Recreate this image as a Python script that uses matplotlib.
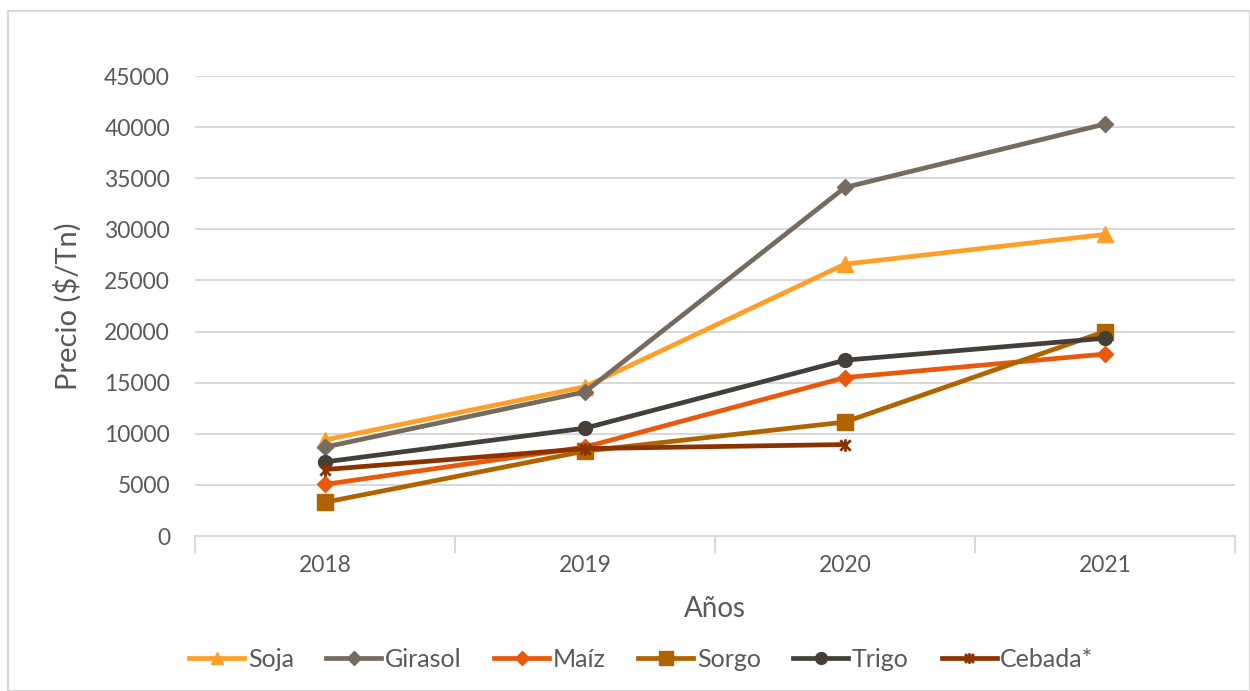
import numpy as np
import matplotlib.pyplot as plt
from matplotlib.patches import Rectangle
from matplotlib.path import Path

years = ['2018', '2019', '2020', '2021']
soja = [9400, 14600, 26600, 29500]
girasol = [8700, 14100, 34100, 40300]
maiz = [5050, 8700, 15500, 17800]
sorgo = [3300, 8300, 11150, 20000]
trigo = [7250, 10550, 17200, 19350]
cebada = [6500, 8550, 8950, np.nan]

# excel-like star: an x with a vertical bar through it
starMarker = Path([(-1, -1), (1, 1), (-1, 1), (1, -1), (0, -1.2), (0, 1.2)],
                  [Path.MOVETO, Path.LINETO, Path.MOVETO, Path.LINETO, Path.MOVETO, Path.LINETO])

series = [
    ('Soja', soja, '#FF9F2A', '^', 11),
    ('Girasol', girasol, '#756B5E', 'D', 8),
    ('Maíz', maiz, '#E8590C', 'D', 8),
    ('Sorgo', sorgo, '#B06400', 's', 12),
    ('Trigo', trigo, '#453F3A', 'o', 10),
    ('Cebada*', cebada, '#8B3300', starMarker, 9),
]

plt.rcParams['font.family'] = ['Lato', 'DejaVu Sans']
txtColor = '#595959'

fig = plt.figure(figsize=(12.5, 6.91), dpi=100)
fig.patches.append(Rectangle((0.0064, 0.0), 0.9936, 0.984, transform=fig.transFigure,
                             fill=False, edgecolor='#D9D9D9', linewidth=1.5))
ax = fig.add_axes([0.156, 0.2243, 0.832, 0.6657])

x = np.arange(len(years))
for name, vals, col, mk, ms in series:
    ax.plot(x, vals, color=col, linewidth=3.4, marker=mk, markersize=ms,
            markeredgecolor=col, markeredgewidth=2 if name == 'Cebada*' else 1,
            label=name, zorder=3)

ax.set_xlim(-0.5, 3.5)
ax.set_ylim(0, 45000)
ax.set_yticks(np.arange(0, 45001, 5000))
ax.set_xticks(x)
ax.set_xticklabels(years)
ax.set_xticks(np.arange(-0.5, 3.6, 1), minor=True)
ax.tick_params(axis='x', which='major', length=0, pad=14, labelsize=16.5, labelcolor=txtColor)
ax.tick_params(axis='x', which='minor', length=12, width=1.5, color='#D9D9D9', direction='out')
ax.tick_params(axis='y', length=0, pad=18, labelsize=16.5, labelcolor=txtColor)

ax.grid(axis='y', color='#D9D9D9', linewidth=1.5)
ax.set_axisbelow(True)
for s in ['top', 'right', 'left']:
    ax.spines[s].set_visible(False)
ax.spines['bottom'].set_color('#D9D9D9')
ax.spines['bottom'].set_linewidth(1.5)

ax.set_xlabel('Años', fontsize=20, color=txtColor, labelpad=14)
ax.set_ylabel('Precio ($/Tn)', fontsize=21, color=txtColor, labelpad=16)

fig.legend(loc='center', bbox_to_anchor=(0.513, 0.046), ncol=6, frameon=False,
           fontsize=18, labelcolor=txtColor, handlelength=2.2, handletextpad=0.15,
           columnspacing=1.3, markerscale=0.85)

fig.savefig('out.png', dpi=100)
